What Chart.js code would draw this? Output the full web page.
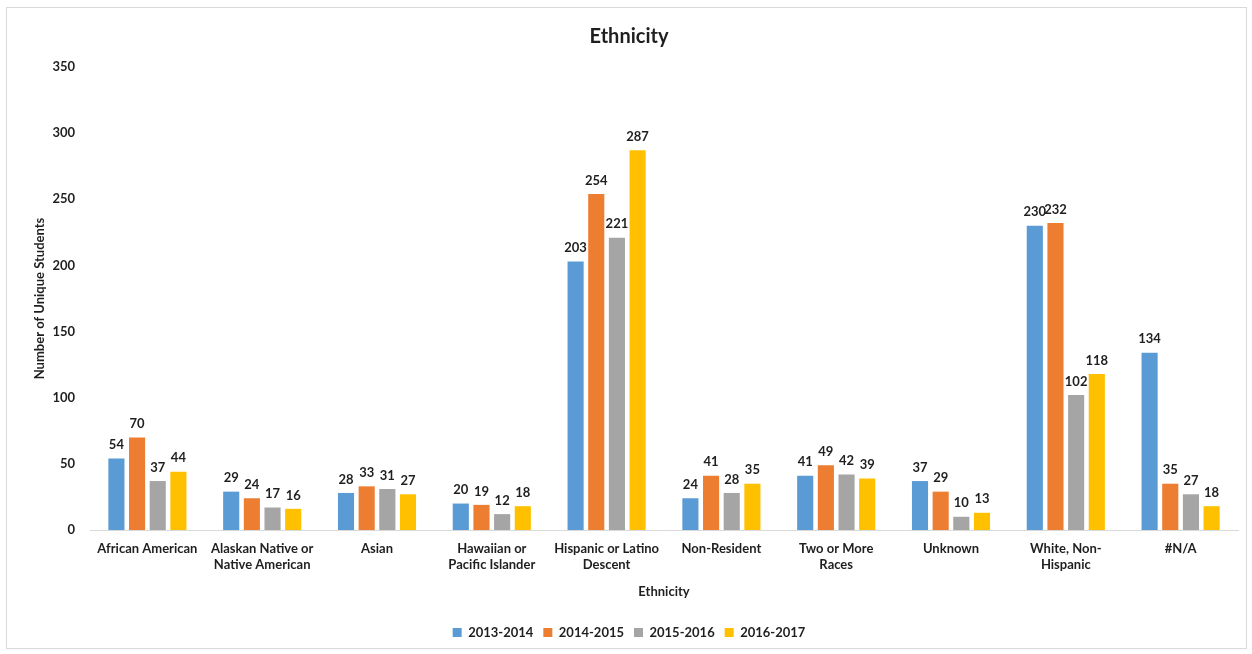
<!DOCTYPE html>
<html>
<head>
<meta charset="utf-8">
<script src="https://cdn.jsdelivr.net/npm/chart.js@4"></script>
<style>
  html, body { margin: 0; padding: 0; background: #ffffff; }
  #wrap { position: relative; width: 1252px; height: 654px; }
  #frame { position: absolute; left: 6px; top: 7px; width: 1241px; height: 642px; border: 1px solid #d9d9d9; box-sizing: border-box; pointer-events: none; }
  canvas { position: absolute; left: 0; top: 0; }
</style>
</head>
<body>
<div id="wrap">
  <canvas id="c" width="1252" height="654"></canvas>
  <div id="frame"></div>
</div>
<script>
const categories = [
  "African American",
  ["Alaskan Native or", "Native American"],
  "Asian",
  ["Hawaiian or", "Pacific Islander"],
  ["Hispanic or Latino", "Descent"],
  "Non-Resident",
  ["Two or More", "Races"],
  "Unknown",
  ["White, Non-", "Hispanic"],
  "#N/A"
];
const seriesNames = ["2013-2014", "2014-2015", "2015-2016", "2016-2017"];
const values2013 = [54, 29, 28, 20, 203, 24, 41, 37, 230, 134];
const values2014 = [70, 24, 33, 19, 254, 41, 49, 29, 232, 35];
const values2015 = [37, 17, 31, 12, 221, 28, 42, 10, 102, 27];
const values2016 = [44, 16, 27, 18, 287, 35, 39, 13, 118, 18];
const seriesColors = ["#5B9BD5", "#ED7D31", "#A5A5A5", "#FFC000"];
const yTicks = { min: 0, max: 350, step: 50 };

const FONT = "Lato, 'Open Sans', sans-serif";
const TEXT = "#1f1f1f";

const dataLabels = {
  id: "dataLabels",
  afterDatasetsDraw(chart) {
    const ctx = chart.ctx;
    ctx.save();
    ctx.font = "bold 13px " + FONT;
    ctx.fillStyle = TEXT;
    ctx.textAlign = "center";
    ctx.textBaseline = "bottom";
    chart.data.datasets.forEach((ds, i) => {
      const meta = chart.getDatasetMeta(i);
      meta.data.forEach((bar, j) => {
        ctx.fillText(String(ds.data[j]), bar.x, bar.y - 7);
      });
    });
    ctx.restore();
  }
};

const allSeries = [values2013, values2014, values2015, values2016];

new Chart(document.getElementById("c"), {
  type: "bar",
  data: {
    labels: categories,
    datasets: allSeries.map((vals, i) => ({
      label: seriesNames[i],
      data: vals,
      backgroundColor: seriesColors[i],
      borderWidth: 0,
      categoryPercentage: 0.72,
      barPercentage: 0.78
    }))
  },
  options: {
    responsive: false,
    animation: false,
    devicePixelRatio: 1,
    layout: { padding: { left: 20, right: 14, top: 0, bottom: 5 } },
    plugins: {
      title: {
        display: true,
        text: "Ethnicity",
        color: TEXT,
        font: { family: FONT, size: 20, weight: "bold" },
        padding: { top: 25, bottom: 18 }
      },
      legend: {
        position: "bottom",
        labels: {
          color: TEXT,
          font: { family: FONT, size: 13, weight: "bold" },
          boxWidth: 9,
          boxHeight: 9,
          padding: 10
        }
      },
      tooltip: { enabled: false }
    },
    scales: {
      x: {
        grid: { display: false, drawTicks: false },
        border: { display: true, color: "#d9d9d9", width: 1 },
        ticks: {
          color: TEXT,
          font: { family: FONT, size: 13, weight: "bold" },
          padding: 11,
          maxRotation: 0,
          autoSkip: false
        },
        title: {
          display: true,
          text: "Ethnicity",
          color: TEXT,
          font: { family: FONT, size: 13, weight: "bold" },
          padding: { top: 0, bottom: 16 }
        },
        afterFit(scale) { scale.height = 86; }
      },
      y: {
        min: yTicks.min,
        max: yTicks.max,
        grid: { display: false, drawTicks: false },
        border: { display: false },
        ticks: {
          stepSize: yTicks.step,
          color: TEXT,
          font: { family: FONT, size: 13, weight: "bold" },
          padding: 15
        },
        title: {
          display: true,
          text: "Number of Unique Students",
          color: TEXT,
          font: { family: FONT, size: 13, weight: "bold" },
          padding: { top: 12, bottom: 0 }
        },
        afterFit(scale) { scale.width = 70; }
      }
    }
  },
  plugins: [dataLabels]
});
</script>
</body>
</html>
